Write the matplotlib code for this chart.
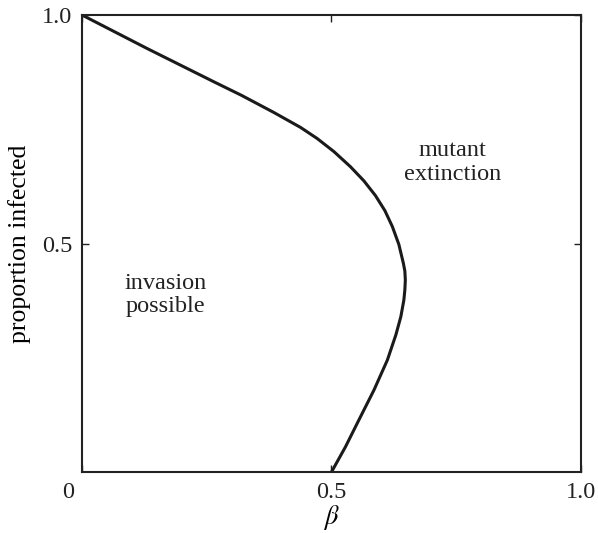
import matplotlib
matplotlib.use("Agg")
import matplotlib.pyplot as plt
import matplotlib.transforms as mtransforms

# boundary curve (beta, proportion infected)
beta = [0.0, 0.130, 0.264, 0.320, 0.384, 0.438, 0.471, 0.505, 0.538, 0.565,
        0.588, 0.607, 0.622, 0.635, 0.644, 0.647, 0.648, 0.647, 0.645, 0.639,
        0.629, 0.612, 0.585, 0.555, 0.528, 0.500]
prop_infected = [1.0, 0.927, 0.854, 0.824, 0.787, 0.754, 0.730, 0.701, 0.668, 0.637,
                 0.605, 0.572, 0.537, 0.498, 0.457, 0.440, 0.420, 0.398, 0.376, 0.340,
                 0.300, 0.245, 0.179, 0.114, 0.055, 0.0]

x_ticks = [0, 0.5, 1.0]
x_tick_labels = ["0", "0.5", "1.0"]
y_ticks = [0.5, 1.0]
y_tick_labels = ["0.5", "1.0"]

plt.rcParams["font.family"] = ["Liberation Serif", "DejaVu Serif"]
plt.rcParams["mathtext.fontset"] = "stix"

fig = plt.figure(figsize=(5.98, 5.33), dpi=100)
ax = fig.add_axes([0.137, 0.1144, 0.8346, 0.8575])

ax.plot(beta, prop_infected, color="#1a1a1a", linewidth=2.2,
        solid_capstyle="butt", solid_joinstyle="round")

ax.set_xlim(0, 1)
ax.set_ylim(0, 1)
ax.set_xticks(x_ticks)
ax.set_xticklabels(x_tick_labels)
ax.set_yticks(y_ticks)
ax.set_yticklabels(y_tick_labels)
ax.tick_params(direction="in", length=5, width=1, top=True, right=True,
               labelsize=17.5, colors="#222222", pad=7)

# the "0" sits off to the left of the corner
zero_lab = ax.get_xticklabels()[0]
zero_lab.set_transform(zero_lab.get_transform() +
                       mtransforms.ScaledTranslation(-14 / 100, 0, fig.dpi_scale_trans))

for spine in ax.spines.values():
    spine.set_linewidth(1.5)
    spine.set_color("#222222")

ax.set_xlabel(r"$\beta$", fontsize=19, labelpad=0)
ax.set_ylabel("proportion infected", fontsize=18.5, labelpad=8)

ax.text(0.743, 0.677, "mutant\nextinction", ha="center", va="center",
        fontsize=17.5, linespacing=1.15, color="#222222")
ax.text(0.167, 0.387, "invasion\npossible", ha="center", va="center",
        fontsize=17.5, linespacing=1.15, color="#222222")

fig.savefig("out.png", dpi=100)
